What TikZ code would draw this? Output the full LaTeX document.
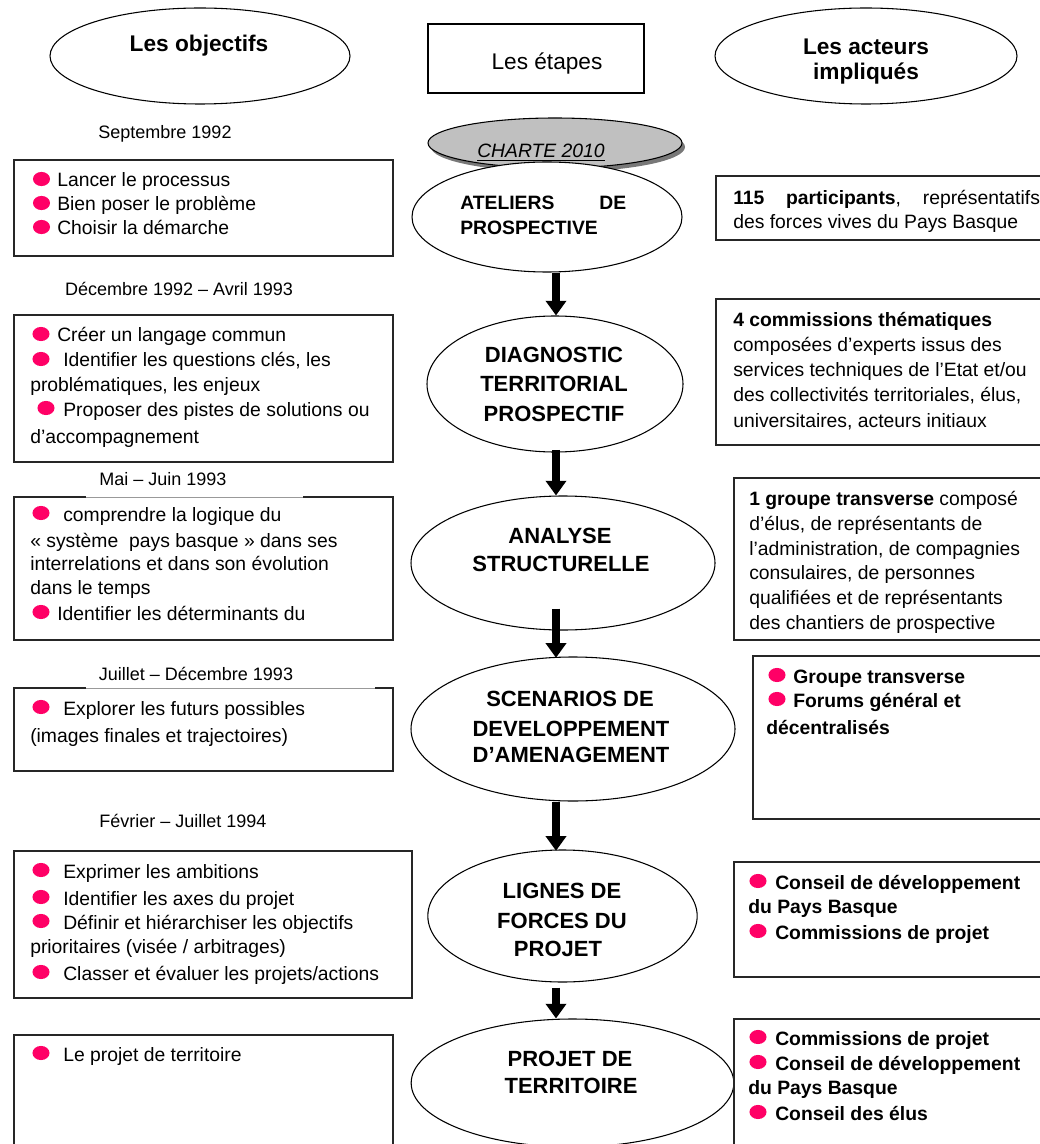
\documentclass[tikz,border=0pt]{standalone}
\usepackage{fontspec}
\setmainfont{Liberation Sans}
\usetikzlibrary{shapes.geometric,arrows.meta,calc}
\definecolor{bulc}{RGB}{255,0,102}
\definecolor{chartefill}{RGB}{192,192,192}
\definecolor{charteshade}{RGB}{120,120,120}
\newcommand\bdot[2]{\fill[bulc] (#1,#2) ellipse (6.4pt and 5.3pt);}

\begin{document}
\begin{tikzpicture}[x=0.75pt,y=-0.75pt,
  ell/.style={draw, ellipse, line width=0.8pt, inner sep=0pt, fill=white},
  frame/.style={draw, line width=1.1pt, black!85},
  body/.style={inner sep=0pt, anchor=base west, font=\fontsize{14.5}{17}\selectfont},
  bodyb/.style={inner sep=0pt, anchor=base west, font=\fontsize{14.5}{17}\selectfont\bfseries},
  date/.style={inner sep=0pt, anchor=base, font=\fontsize{13.5}{16}\selectfont},
  head/.style={inner sep=0pt, anchor=base, font=\fontsize{17}{20}\selectfont\bfseries},
  stage/.style={inner sep=0pt, anchor=base, font=\fontsize{16.5}{20}\selectfont\bfseries},
  flow/.style={line width=6pt, -{Triangle[width=15pt,length=11pt]}}
]
\useasboundingbox (0,0) rectangle (1039,1144);

% ---- column headings ----
\node[ell, minimum width=225pt, minimum height=72pt] (obj) at (200,56) {};
\node[head] (objt) at (199,52) {Les objectifs};
\node[draw, line width=0.9pt, minimum width=162pt, minimum height=51.75pt, inner sep=0pt] (etp) at (536,58.5) {};
\node[inner sep=0pt, anchor=base, font=\fontsize{17}{20}\selectfont] (etpt) at (547,70) {Les étapes};
\node[ell, minimum width=226.5pt, minimum height=72pt] (act) at (866,56) {};
\node[head] (actt1) at (866,55) {Les acteurs};
\node[head] (actt2) at (866,80) {impliqués};

% ---- stages (centre column) ----
\node[ellipse, fill=charteshade, inner sep=0pt, minimum width=190.5pt, minimum height=37.5pt] (chs) at (558,147) {};
\node[ell, fill=chartefill, minimum width=190.5pt, minimum height=37.5pt] (charte) at (555,143) {};
\node[inner sep=0pt, anchor=base, font=\fontsize{14.5}{17}\selectfont\itshape] (chartet) at (541,158) {\underline{CHARTE 2010}};

\node[ell, minimum width=202.5pt, minimum height=82.5pt] (ate) at (547,217) {};
\node[ell, minimum width=192pt, minimum height=102pt] (diag) at (555,384) {};
\node[ell, minimum width=228pt, minimum height=100.5pt] (ana) at (563,563) {};
\node[ell, minimum width=243pt, minimum height=108pt] (scen) at (573,729) {};
\node[ell, minimum width=202pt, minimum height=99pt] (lig) at (562.5,916) {};
\node[ell, minimum width=242pt, minimum height=96pt] (proj) at (572.5,1083) {};

\node[inner sep=0pt, anchor=base west, font=\fontsize{14.5}{17}\selectfont\bfseries] (atet1) at (460,210) {\makebox[124.5pt][s]{ATELIERS\hfill DE}};
\node[inner sep=0pt, anchor=base west, font=\fontsize{14.5}{17}\selectfont\bfseries] (atet2) at (460,235) {PROSPECTIVE};

\node[stage] (diagt1) at (554,363) {DIAGNOSTIC};
\node[stage] (diagt2) at (554,392) {TERRITORIAL};
\node[stage] (diagt3) at (554,421) {PROSPECTIF};

\node[stage] (anat1) at (560,543) {ANALYSE};
\node[stage] (anat2) at (561,571) {STRUCTURELLE};

\node[stage] (scent1) at (570,706) {SCENARIOS DE};
\node[stage] (scent2) at (571,736) {DEVELOPPEMENT};
\node[stage] (scent3) at (571,762) {D’AMENAGEMENT};

\node[stage] (ligt1) at (562,898) {LIGNES DE};
\node[stage] (ligt2) at (562,928) {FORCES DU};
\node[stage] (ligt3) at (558,956) {PROJET};

\node[stage] (projt1) at (570,1066) {PROJET DE};
\node[stage] (projt2) at (571,1093) {TERRITOIRE};

% ---- arrows between stages ----
\coordinate (ax) at (556,0);
\draw[flow] (ax |- ate.south) -- (ax |- diag.north);
\draw[flow] ([yshift=2pt]ax |- diag.south) -- (ax |- ana.north);
\draw[flow] ([yshift=16.5pt]ax |- ana.south) -- ([yshift=-1pt]ax |- scen.north);
\draw[flow] (ax |- scen.south) -- ([yshift=-1pt]ax |- lig.north);
\draw[flow] ([yshift=-3.75pt]ax |- lig.south) -- (ax |- proj.north);

% ---- dates ----
\node[date] (d1) at (165,139) {Septembre 1992};
\node[date] (d2) at (179,296) {Décembre 1992 – Avril 1993};
\node[date] (d3) at (163,485) {Mai – Juin 1993};
\node[date] (d4) at (196,680) {Juillet – Décembre 1993};
\node[date] (d5) at (183,827) {Février – Juillet 1994};

% ---- objectives (left column) ----
\draw[frame] (14,160) rectangle (393,256);
\bdot{41.5}{179}\bdot{41.5}{203}\bdot{41.5}{227}
\node[body] (o1a) at (57,187) {Lancer le processus};
\node[body] (o1b) at (57,211) {Bien poser le problème};
\node[body] (o1c) at (57,235) {Choisir la démarche};

\draw[frame] (14,315) rectangle (393,462);
\bdot{41}{334}\bdot{41}{359}\bdot{46}{408}
\node[body] (o2a) at (57,342) {Créer un langage commun};
\node[body] (o2b) at (63,367) {Identifier les questions clés, les};
\node[body] (o2c) at (30,392) {problématiques, les enjeux};
\node[body] (o2d) at (63,416) {Proposer des pistes de solutions ou};
\node[body] (o2e) at (30,443) {d’accompagnement};

\draw[frame] (14,497) rectangle (393,640);
\draw[white, line width=2pt] (86,497) -- (303,497);
\draw[black!40, line width=0.5pt] (86,497) -- (303,497);
\bdot{41}{513}\bdot{41}{612}
\node[body] (o3a) at (63,521) {comprendre la logique du};
\node[body] (o3b) at (30,547) {« système \ pays basque » dans ses};
\node[body] (o3c) at (30,570) {interrelations et dans son évolution};
\node[body] (o3d) at (30,594) {dans le temps};
\node[body] (o3e) at (57,620) {Identifier les déterminants du};

\draw[frame] (14,688) rectangle (393,771);
\draw[white, line width=2pt] (86,688) -- (375,688);
\draw[black!40, line width=0.5pt] (86,688) -- (375,688);
\bdot{41}{707}
\node[body] (o4a) at (63,715) {Explorer les futurs possibles};
\node[body] (o4b) at (30,742) {(images finales et trajectoires)};

\draw[frame] (14,851) rectangle (412,998);
\bdot{41}{870}\bdot{41}{897}\bdot{41}{921}\bdot{41}{972}
\node[body] (o5a) at (63,878) {Exprimer les ambitions};
\node[body] (o5b) at (63,905) {Identifier les axes du projet};
\node[body] (o5c) at (63,929) {Définir et hiérarchiser les objectifs};
\node[body] (o5d) at (30,953) {prioritaires (visée / arbitrages)};
\node[body] (o5e) at (63,980) {Classer et évaluer les projets/actions};

\draw[frame] (14,1035) rectangle (393,1160);
\bdot{41}{1053}
\node[body] (o6a) at (63,1061) {Le projet de territoire};

% ---- actors (right column) ----
\draw[frame] (716,176) rectangle (1050,240);
\node[body] (a1a) at (733,205) {\makebox[230pt][s]{\textbf{115\hfill participants},\hfill représentatifs}};
\node[body] (a1b) at (733,229) {des forces vives du Pays Basque};

\draw[frame] (716,299) rectangle (1050,445);
\node[bodyb] (a2a) at (733,327) {4 commissions thématiques};
\node[body] (a2b) at (733,352) {composées d’experts issus des};
\node[body] (a2c) at (733,377) {services techniques de l’Etat et/ou};
\node[body] (a2d) at (733,402) {des collectivités territoriales, élus,};
\node[body] (a2e) at (733,427) {universitaires, acteurs initiaux};

\draw[frame] (734,478) rectangle (1050,640);
\node[body] (a3a) at (749,505) {\textbf{1 groupe transverse} composé};
\node[body] (a3b) at (749,530) {d’élus, de représentants de};
\node[body] (a3c) at (749,555) {l’administration, de compagnies};
\node[body] (a3d) at (749,579) {consulaires, de personnes};
\node[body] (a3e) at (749,604) {qualifiées et de représentants};
\node[body] (a3f) at (749,629) {des chantiers de prospective};

\draw[frame] (753,656) rectangle (1050,819);
\bdot{777}{675}\bdot{777}{699}
\node[bodyb] (a4a) at (793,683) {Groupe transverse};
\node[bodyb] (a4b) at (793,707) {Forums général et};
\node[bodyb] (a4c) at (766,734) {décentralisés};

\draw[frame] (734,862) rectangle (1050,977);
\bdot{758}{881}\bdot{758}{931}
\node[bodyb] (a5a) at (775,889) {Conseil de développement};
\node[bodyb] (a5b) at (748,913) {du Pays Basque};
\node[bodyb] (a5c) at (775,939) {Commissions de projet};

\draw[frame] (734,1019) rectangle (1050,1160);
\bdot{758}{1037}\bdot{758}{1062}\bdot{758}{1112}
\node[bodyb] (a6a) at (775,1045) {Commissions de projet};
\node[bodyb] (a6b) at (775,1070) {Conseil de développement};
\node[bodyb] (a6c) at (748,1094) {du Pays Basque};
\node[bodyb] (a6d) at (775,1120) {Conseil des élus};
\end{tikzpicture}
\end{document}
